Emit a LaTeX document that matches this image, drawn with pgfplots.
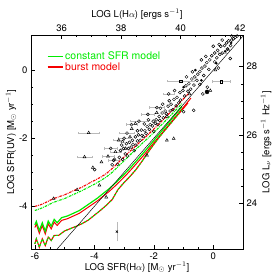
\documentclass[border=0pt]{standalone}
\usepackage{fontspec}
\setmainfont{TeX Gyre Heros}
\usepackage{pgfplots}
\pgfplotsset{compat=1.18}
\definecolor{mgreen}{RGB}{0,235,0}
\definecolor{mred}{RGB}{245,0,0}
\begin{document}
\begin{tikzpicture}
\pgfplotsset{
  common/.style={
    width=212pt, height=214pt, scale only axis,
    at={(0pt,0pt)}, anchor=south west,
    /pgf/number format/assume math mode=true,
    tick label style={font=\fontsize{9.5}{10}\selectfont},
    label style={font=\fontsize{9.5}{11}\selectfont},
    tick align=inside,
    major tick length=4pt, minor tick length=2pt,
    tick style={black, line width=0.4pt},
  }
}
\begin{axis}[common,
  xmin=-6.13, xmax=1.0, ymin=-5.25, ymax=1.03,
  xtick={-6,-4,-2,0}, ytick={-4,-2,0},
  minor x tick num=3, minor y tick num=3,
  xtick pos=bottom, ytick pos=left,
  xlabel={LOG SFR(H$\alpha$) [M$_\odot$ yr$^{-1}$]},
  ylabel={LOG SFR(UV) [M$_\odot$ yr$^{-1}$]},
  xlabel style={yshift=4pt},
  ylabel style={yshift=-4pt},
  clip=true,
  legend style={draw=none, fill=none, at={(0.07,0.935)}, anchor=north west,
    font=\fontsize{10.5}{11}\selectfont, row sep=-3pt, inner sep=1pt},
  legend cell align=left,
  legend image code/.code={\draw[#1] (0pt,0pt) -- (15pt,0pt);},
]
\addlegendimage{mgreen, line width=1.2pt}
\addlegendentry{\textcolor{mgreen}{constant SFR model}}
\addlegendimage{mred, line width=1.2pt}
\addlegendentry{\textcolor{mred}{burst model}}

% scatter: open circles
\addplot[only marks, mark=o, mark size=1.5pt, mark options={black, line width=0.45pt}] coordinates {
(0.80,1.00)(0.74,0.96)(0.68,0.92)(0.62,0.88)(0.52,0.86)(0.45,0.80)(0.30,0.88)(0.38,0.72)(0.25,0.70)(0.58,0.72)(0.48,0.62)(0.15,0.58)(0.05,0.50)(0.22,0.46)(-0.05,0.42)(0.12,0.36)(-0.12,0.30)(0.05,0.24)(-0.22,0.22)(-0.28,0.12)(-0.38,0.06)(-0.15,0.02)(-0.45,-0.04)(-0.52,-0.12)(-0.32,-0.16)(-0.62,-0.20)(-0.55,-0.30)(-0.72,-0.26)(-0.45,-0.42)(-0.82,-0.40)(-0.92,-0.46)(-0.76,-0.56)(-1.02,-0.60)(-1.12,-0.66)(-0.96,-0.76)(-1.22,-0.80)(-1.32,-0.86)(-1.16,-0.96)(-1.42,-1.00)(-1.52,-1.06)(-1.36,-1.16)(-1.62,-1.20)(-1.72,-1.26)(-1.56,-1.36)(-1.82,-1.36)(-1.92,-1.46)(-2.02,-1.50)(-1.86,-1.60)(-2.12,-1.60)(-2.22,-1.66)(-2.32,-1.58)(-2.42,-1.76)(-2.26,-1.86)(-2.52,-1.90)(-2.62,-1.96)(-2.46,-2.06)(-2.72,-2.06)(-2.82,-2.12)(-2.92,-2.16)(-2.76,-2.26)(-3.02,-2.30)(-3.12,-2.36)(-2.96,-2.46)(-3.16,-2.56)(-3.32,-2.62)(-3.22,-2.76)(-3.99,-2.92)(0.57,0.34)(0.17,0.06)(-0.20,-0.50)(-0.66,-1.18)(-1.00,-1.22)(-0.35,-0.70)(-2.60,-2.20)(-2.00,-1.80)(-1.70,-1.00)(-1.30,-0.60)(-0.90,-0.20)(-0.40,0.30)(0.00,0.70)
(-2.85,-2.30)(-2.70,-2.18)(-2.55,-2.08)(-2.40,-1.92)(-2.30,-1.78)(-2.15,-1.74)(-2.05,-1.64)(-1.95,-1.56)(-1.80,-1.48)(-1.68,-1.40)(-1.58,-1.28)(-1.45,-1.20)(-1.25,-1.05)(-1.10,-0.88)(-0.85,-0.62)(-0.65,-0.44)(-3.05,-2.62)(-2.88,-2.52)(-2.66,-2.36)(-3.40,-2.78)(-3.08,-2.20)(-2.55,-1.78)(-2.18,-1.46)(-1.78,-1.12)(-1.48,-0.90)(-0.70,-0.05)(-0.25,0.40)(0.20,0.75)(0.62,1.00)
};
% circles with error bars
\addplot[only marks, mark=o, mark size=1.5pt, mark options={black, line width=0.45pt},
  error bars/.cd, x dir=both, x explicit,
  error bar style={gray!55, line width=0.4pt},
  error mark options={gray!55, mark size=1.2pt, rotate=90}] coordinates {
(-3.35,-2.65) +- (0.20,0) (-2.90,-1.85) +- (0.25,0) (-2.50,-1.50) +- (0.30,0) (-1.90,-1.10) +- (0.25,0) (-1.50,-0.70) +- (0.20,0) (0.30,0.50) +- (0.15,0)
(-3.45,-2.30) +- (0.22,0) (-2.75,-1.60) +- (0.18,0) (-3.00,-2.00) +- (0.20,0) (-2.20,-1.30) +- (0.22,0)
};
% triangles
\addplot[only marks, mark=triangle, mark size=1.7pt, mark options={black, line width=0.45pt}] coordinates {
(-4.58,-3.51)(-5.37,-3.77)(-3.83,-3.38)(-3.60,-3.73)(-3.76,-2.70)(-4.05,-2.86)(-1.56,-2.06)(-1.33,-2.01)(-2.23,-2.50)(-2.80,-1.96)(-2.62,-1.57)(-2.74,-1.72)(-3.05,-2.10)(-0.10,-0.60)(0.07,0.00)(0.50,0.60)(-0.80,-0.70)(-1.90,-1.25)(-2.95,-2.30)(-2.35,-1.95)
};
\addplot[only marks, mark=triangle, mark size=1.7pt, mark options={black, line width=0.45pt},
  error bars/.cd, x dir=both, x explicit,
  error bar style={gray!55, line width=0.4pt},
  error mark options={gray!55, mark size=1.2pt, rotate=90}] coordinates {
(-4.19,-1.84) +- (0.36,0) (-4.33,-2.55) +- (0.25,0) (-3.54,-2.53) +- (0.20,0) (-3.29,-2.40) +- (0.18,0) (-3.18,-2.06) +- (0.20,0)
};
% squares with error bars
\addplot[only marks, mark=square, mark size=1.2pt, mark options={black, line width=0.45pt},
  error bars/.cd, x dir=both, x explicit,
  error bar style={gray!55, line width=0.4pt},
  error mark options={gray!55, mark size=1.2pt, rotate=90}] coordinates {
(-1.10,-0.32) +- (0.45,0) (0.26,-0.34) +- (0.30,0)
};
% filled dots
\addplot[only marks, mark=*, mark size=1.1pt, mark options={black}] coordinates {
(0.10,0.20)(0.40,0.55)(-0.40,-0.30)(-0.60,0.00)(0.60,0.80)(-1.00,-0.50)
};
\addplot[only marks, mark=*, mark size=2.0pt, mark options={black}] coordinates {(-0.21,-0.64)};
% x mark with vertical error
\addplot[only marks, mark=x, mark size=1.5pt, mark options={black, line width=0.45pt},
  error bars/.cd, y dir=both, y explicit,
  error bar style={gray!55, line width=0.4pt},
  error mark options={gray!55, mark size=1.2pt}] coordinates {
(-3.24,-4.74) +- (0,0.25)
};

% ---- models: upper (dash-dot)
\addplot[mred, line width=1.1pt, dash pattern=on 2.5pt off 1pt on 0.8pt off 1pt] coordinates {
(-6.0,-4.00)(-5.8,-3.95)(-5.6,-3.87)(-5.4,-3.78)(-5.2,-3.72)(-5.0,-3.66)(-4.8,-3.58)(-4.6,-3.50)(-4.4,-3.43)(-4.2,-3.33)(-4.0,-3.24)(-3.8,-3.15)(-3.6,-3.04)(-3.4,-2.89)(-3.2,-2.72)(-3.0,-2.55)(-2.8,-2.38)(-2.6,-2.22)(-2.4,-2.06)(-2.2,-1.90)(-2.0,-1.73)(-1.8,-1.56)(-1.6,-1.38)(-1.4,-1.20)(-1.2,-1.02)(-1.0,-0.84)(-0.8,-0.66)
};
\addplot[mgreen, line width=1.1pt, dash pattern=on 2.5pt off 1pt on 0.8pt off 1pt] coordinates {
(-6.0,-4.12)(-5.8,-4.06)(-5.6,-3.98)(-5.4,-3.89)(-5.2,-3.83)(-5.0,-3.77)(-4.8,-3.69)(-4.6,-3.61)(-4.4,-3.53)(-4.2,-3.44)(-4.0,-3.35)(-3.8,-3.25)(-3.6,-3.14)(-3.4,-3.00)(-3.2,-2.83)(-3.0,-2.66)(-2.8,-2.49)(-2.6,-2.32)(-2.4,-2.16)(-2.2,-2.00)(-2.0,-1.83)(-1.8,-1.66)(-1.6,-1.48)(-1.4,-1.30)(-1.2,-1.12)(-1.05,-0.98)
};
% ---- middle (solid)
\addplot[mred, line width=1.0pt] coordinates {
(-6.0,-4.62)(-5.95,-4.52)(-5.85,-4.79)(-5.75,-4.56)(-5.65,-4.81)(-5.55,-4.51)(-5.45,-4.66)(-5.35,-4.46)(-5.25,-4.56)(-5.1,-4.41)(-4.9,-4.36)(-4.7,-4.28)(-4.5,-4.20)(-4.3,-4.08)(-4.1,-3.96)(-3.9,-3.84)(-3.7,-3.70)(-3.5,-3.56)(-3.3,-3.40)(-3.1,-3.23)(-2.9,-3.05)(-2.7,-2.86)(-2.5,-2.66)(-2.3,-2.46)(-2.1,-2.24)(-1.9,-2.03)(-1.7,-1.82)(-1.5,-1.61)(-1.3,-1.40)(-1.1,-1.19)(-0.9,-0.98)(-0.75,-0.82)
};
\addplot[mgreen, line width=1.2pt] coordinates {
(-6.0,-4.54)(-5.95,-4.44)(-5.85,-4.71)(-5.75,-4.48)(-5.65,-4.73)(-5.55,-4.43)(-5.45,-4.58)(-5.35,-4.38)(-5.25,-4.48)(-5.1,-4.33)(-4.9,-4.28)(-4.7,-4.20)(-4.5,-4.12)(-4.3,-4.00)(-4.1,-3.88)(-3.9,-3.76)(-3.7,-3.62)(-3.5,-3.48)(-3.3,-3.32)(-3.1,-3.15)(-2.9,-2.97)(-2.7,-2.78)(-2.5,-2.58)(-2.3,-2.38)(-2.1,-2.17)(-1.9,-1.96)(-1.7,-1.75)(-1.5,-1.54)(-1.3,-1.33)(-1.1,-1.12)(-1.05,-1.07)
};
% ---- lower (dashed)
\addplot[mred, line width=1.1pt] coordinates {
(-6.0,-5.10)(-5.95,-4.95)(-5.85,-5.20)(-5.75,-4.95)(-5.65,-5.15)(-5.55,-4.90)(-5.45,-5.00)(-5.35,-4.85)(-5.2,-4.85)(-5.0,-4.72)(-4.8,-4.65)(-4.6,-4.58)(-4.4,-4.50)(-4.2,-4.40)(-4.0,-4.26)(-3.8,-4.12)(-3.6,-3.97)(-3.4,-3.80)(-3.3,-3.65)(-3.2,-3.50)(-3.0,-3.30)(-2.8,-3.12)(-2.6,-2.92)(-2.4,-2.68)(-2.2,-2.42)(-2.0,-2.18)(-1.8,-1.95)(-1.6,-1.74)(-1.4,-1.53)(-1.2,-1.32)(-1.0,-1.12)(-0.85,-0.96)
};
\addplot[mgreen, line width=1.1pt, dash pattern=on 2pt off 2pt] coordinates {
(-6.0,-5.10)(-5.95,-4.95)(-5.85,-5.20)(-5.75,-4.95)(-5.65,-5.15)(-5.55,-4.90)(-5.45,-5.00)(-5.35,-4.85)(-5.2,-4.85)(-5.0,-4.72)(-4.8,-4.65)(-4.6,-4.58)(-4.4,-4.50)(-4.2,-4.40)(-4.0,-4.26)(-3.8,-4.12)(-3.6,-3.97)(-3.4,-3.80)(-3.3,-3.65)(-3.2,-3.50)(-3.0,-3.30)(-2.8,-3.12)(-2.6,-2.92)(-2.4,-2.68)(-2.2,-2.42)(-2.0,-2.18)(-1.8,-1.95)(-1.6,-1.74)(-1.4,-1.53)(-1.2,-1.32)(-1.05,-1.17)
};
% one-to-one line
\addplot[black, line width=0.45pt] coordinates {(-5.3,-5.3)(1.05,1.05)};
\end{axis}
% top axis
\begin{axis}[common,
  xmin=34.97, xmax=42.1, ymin=0, ymax=1,
  axis x line*=top, axis y line=none,
  xtick={36,38,40,42}, minor x tick num=3,
  xlabel={LOG L(H$\alpha$) [ergs s$^{-1}$]},
  xlabel style={yshift=-2pt},
]
\end{axis}
% right axis
\begin{axis}[common,
  xmin=0, xmax=1, ymin=22.65, ymax=28.93,
  axis y line*=right, axis x line=none,
  ytick={24,26,28}, minor y tick num=3,
  ylabel={LOG L$_\nu$ [ergs s$^{-1}$ Hz$^{-1}$]},
  ylabel style={yshift=3pt},
]
\end{axis}
\pgfresetboundingbox
\path[use as bounding box] (-31pt,-30pt) rectangle (248pt,249pt);
\end{tikzpicture}
\end{document}
